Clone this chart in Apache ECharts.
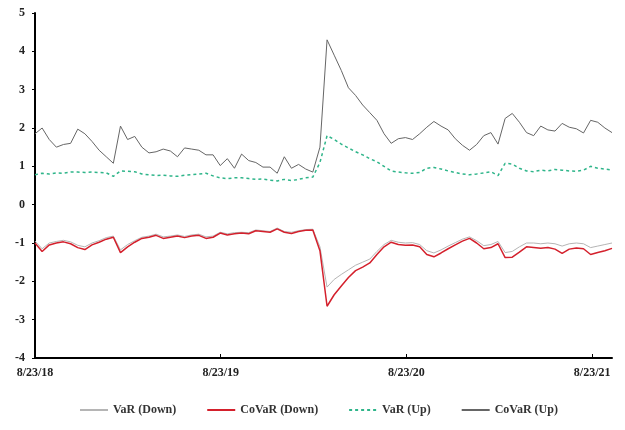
<!DOCTYPE html>
<html>
<head>
<meta charset="utf-8">
<script src="https://cdn.jsdelivr.net/npm/echarts@6/dist/echarts.min.js"></script>
<style>
  html, body { margin: 0; padding: 0; background: #fff; }
  #chart { width: 625px; height: 430px; }
</style>
</head>
<body>
<div id="chart"></div>
<script>
// days since 8/23/18, one point every two weeks
const days = [
  0, 14, 28, 42, 56, 70, 84, 98, 112, 126,
  140, 154, 168, 182, 196, 210, 224, 238, 252, 266,
  280, 294, 308, 322, 336, 350, 364, 378, 392, 406,
  420, 434, 448, 462, 476, 490, 504, 518, 532, 546,
  560, 574, 588, 602, 616, 630, 644, 658, 672, 686,
  700, 714, 728, 742, 756, 770, 784, 798, 812, 826,
  840, 854, 868, 882, 896, 910, 924, 938, 952, 966,
  980, 994, 1008, 1022, 1036, 1050, 1064, 1078, 1092, 1106,
  1120, 1134
]

const tickLabels = ['8/23/18', '8/23/19', '8/23/20', '8/23/21']

const varDown = [
  -0.95, -1.15, -1.00, -0.96, -0.93, -0.97, -1.06, -1.10, -1.00, -0.94,
  -0.86, -0.82, -1.18, -1.04, -0.94, -0.85, -0.82, -0.77, -0.84, -0.82,
  -0.79, -0.83, -0.79, -0.77, -0.84, -0.82, -0.72, -0.76, -0.73, -0.72,
  -0.73, -0.66, -0.68, -0.70, -0.61, -0.70, -0.72, -0.68, -0.65, -0.64,
  -1.10, -2.15, -1.95, -1.82, -1.70, -1.58, -1.50, -1.42, -1.22, -1.04,
  -0.93, -0.98, -1.00, -0.99, -1.04, -1.20, -1.26, -1.18, -1.08, -0.99,
  -0.90, -0.84, -0.94, -1.07, -1.04, -0.96, -1.25, -1.22, -1.10, -1.00,
  -1.00, -1.02, -1.00, -1.02, -1.08, -1.02, -1.00, -1.02, -1.12, -1.08,
  -1.04, -1.00
]

const coVarDown = [
  -1.00, -1.22, -1.05, -1.00, -0.97, -1.02, -1.12, -1.17, -1.05, -0.98,
  -0.90, -0.85, -1.25, -1.10, -0.98, -0.88, -0.85, -0.80, -0.88, -0.85,
  -0.82, -0.86, -0.82, -0.80, -0.88, -0.85, -0.74, -0.79, -0.76, -0.74,
  -0.76, -0.68, -0.70, -0.72, -0.63, -0.72, -0.75, -0.70, -0.67, -0.66,
  -1.20, -2.65, -2.35, -2.12, -1.90, -1.72, -1.63, -1.52, -1.30, -1.10,
  -0.98, -1.04, -1.06, -1.05, -1.10, -1.30, -1.36, -1.26, -1.15, -1.05,
  -0.95, -0.88, -1.00, -1.15, -1.12, -1.02, -1.38, -1.37, -1.24, -1.10,
  -1.12, -1.14, -1.12, -1.16, -1.27, -1.16, -1.13, -1.15, -1.30, -1.25,
  -1.20, -1.14
]

const varUp = [
  0.78, 0.82, 0.80, 0.83, 0.82, 0.85, 0.85, 0.84, 0.85, 0.84,
  0.83, 0.74, 0.88, 0.87, 0.86, 0.80, 0.78, 0.76, 0.77, 0.75,
  0.74, 0.77, 0.78, 0.80, 0.82, 0.75, 0.70, 0.68, 0.70, 0.70,
  0.68, 0.66, 0.67, 0.64, 0.62, 0.66, 0.63, 0.66, 0.70, 0.72,
  1.10, 1.80, 1.70, 1.58, 1.48, 1.38, 1.30, 1.20, 1.12, 1.00,
  0.88, 0.85, 0.83, 0.82, 0.84, 0.95, 0.97, 0.93, 0.88, 0.84,
  0.80, 0.78, 0.80, 0.83, 0.86, 0.76, 1.08, 1.06, 0.95, 0.88,
  0.86, 0.90, 0.88, 0.92, 0.90, 0.88, 0.87, 0.90, 1.00, 0.95,
  0.93, 0.90
]

const coVarUp = [
  1.85, 2.00, 1.70, 1.50, 1.57, 1.60, 1.97, 1.85, 1.65, 1.42,
  1.25, 1.08, 2.05, 1.70, 1.78, 1.50, 1.35, 1.38, 1.45, 1.40,
  1.25, 1.48, 1.45, 1.42, 1.30, 1.30, 1.02, 1.20, 0.95, 1.32,
  1.15, 1.10, 0.98, 0.98, 0.82, 1.25, 0.95, 1.05, 0.93, 0.85,
  1.50, 4.30, 3.90, 3.50, 3.05, 2.85, 2.60, 2.40, 2.20, 1.85,
  1.60, 1.72, 1.75, 1.70, 1.85, 2.02, 2.17, 2.05, 1.95, 1.72,
  1.55, 1.42, 1.57, 1.80, 1.88, 1.58, 2.25, 2.38, 2.15, 1.88,
  1.80, 2.05, 1.95, 1.92, 2.12, 2.02, 1.98, 1.87, 2.20, 2.15,
  2.00, 1.88
]

const font = 'Liberation Serif'
const pairs = vals => days.map((d, i) => [d, vals[i]])

const chart = echarts.init(document.getElementById('chart'))

chart.setOption({
  animation: false,
  backgroundColor: '#fff',
  grid: { left: 35, right: 13, top: 13, bottom: 72 },
  legend: {
    bottom: 9,
    left: 74,
    itemWidth: 28,
    itemHeight: 10,
    itemGap: 30,
    itemStyle: { opacity: 0 },
    textStyle: { fontFamily: font, fontWeight: 'bold', fontSize: 12, color: '#333' },
    data: ['VaR (Down)', 'CoVaR (Down)', 'VaR (Up)', 'CoVaR (Up)']
  },
  xAxis: {
    type: 'value',
    min: 0,
    max: 1134,
    interval: 365,
    splitLine: { show: false },
    axisLine: { onZero: false, lineStyle: { color: '#000', width: 2 } },
    axisTick: { inside: true, length: 4, lineStyle: { color: '#000' } },
    axisLabel: {
      margin: 9,
      showMaxLabel: false,
      fontFamily: font,
      fontWeight: 'bold',
      fontSize: 12,
      color: '#222',
      formatter: v => (v % 365 === 0 ? tickLabels[v / 365] : '')
    }
  },
  yAxis: {
    type: 'value',
    min: -4,
    max: 5,
    interval: 1,
    splitLine: { show: false },
    axisLine: { show: true, onZero: false, lineStyle: { color: '#000', width: 2 } },
    axisTick: { show: true, length: 3, lineStyle: { color: '#000' } },
    axisLabel: { margin: 10, fontFamily: font, fontWeight: 'bold', fontSize: 12, color: '#222' }
  },
  series: [
    {
      name: 'VaR (Down)',
      type: 'line',
      symbol: 'none',
      data: pairs(varDown),
      lineStyle: { color: '#b5b5b5', width: 1 },
      itemStyle: { color: '#b5b5b5' }
    },
    {
      name: 'CoVaR (Down)',
      type: 'line',
      symbol: 'none',
      data: pairs(coVarDown),
      lineStyle: { color: '#d4202c', width: 1.5 },
      itemStyle: { color: '#d4202c' }
    },
    {
      name: 'VaR (Up)',
      type: 'line',
      symbol: 'none',
      data: pairs(varUp),
      lineStyle: { color: '#2fb58a', width: 1.5, type: [3, 3] },
      itemStyle: { color: '#2fb58a' }
    },
    {
      name: 'CoVaR (Up)',
      type: 'line',
      symbol: 'none',
      data: pairs(coVarUp),
      lineStyle: { color: '#666', width: 1 },
      itemStyle: { color: '#666' }
    }
  ]
})
</script>
</body>
</html>
